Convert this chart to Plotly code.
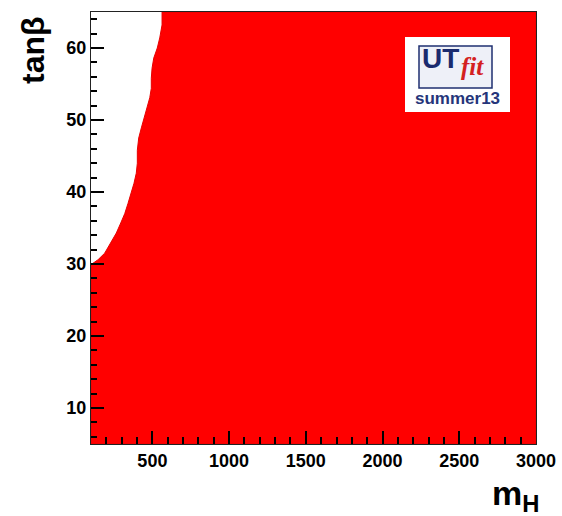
import plotly.graph_objects as go

# Boundary of the allowed (red) region: m_H vs tan(beta)
boundary_m = [100, 113, 146, 189, 228, 265, 294, 320, 341, 363, 380, 395, 402, 402,
              411, 428, 445, 467, 483, 493, 493, 498, 509, 532, 548, 563, 563]
boundary_tanb = [29.9, 30.1, 30.6, 31.5, 32.9, 34.3, 35.7, 37.0, 38.4, 39.8, 41.2, 42.6, 44.0, 45.8,
                 47.5, 48.9, 50.3, 51.7, 53.1, 54.4, 55.8, 57.2, 58.6, 60.0, 61.4, 63.2, 65.0]

x_range = [100, 3000]
y_range = [5, 65]
x_tickvals = [500, 1000, 1500, 2000, 2500, 3000]
y_tickvals = [10, 20, 30, 40, 50, 60]

poly_x = [x_range[0]] + boundary_m + [x_range[1], x_range[1], x_range[0]]
poly_y = [y_range[0]] + boundary_tanb + [y_range[1], y_range[0], y_range[0]]

fig = go.Figure()
fig.add_trace(go.Scatter(x=poly_x, y=poly_y, mode="lines", fill="toself",
                         fillcolor="#ff0000", line=dict(color="#e80000", width=1),
                         hoverinfo="skip", showlegend=False))

W, H = 562, 516
L, R, T, B = 91, 26, 12, 72
pw, ph = W - L - R, H - T - B

def px(x):
    return (x - L) / pw

def py(y):
    return (H - B - y) / ph

axis_common = dict(showline=True, linecolor="#222222", linewidth=1, mirror=True,
                   ticks="inside", ticklen=13, tickwidth=1.5, tickcolor="black",
                   showgrid=False, zeroline=False, automargin=False,
                   tickfont=dict(family="Liberation Sans", size=18, color="black", weight="bold"),
                   layer="above traces")

def note(text, x, y, size, color, family="Liberation Sans", angle=0):
    return dict(text=text, xref="paper", yref="paper", x=px(x), y=py(y), textangle=angle,
                xanchor="center", yanchor="middle", showarrow=False,
                font=dict(family=family, size=size, color=color, weight="bold"))

fig.update_layout(
    width=W, height=H,
    margin=dict(l=L, r=R, t=T, b=B, autoexpand=False),
    paper_bgcolor="white", plot_bgcolor="white",
    xaxis=dict(range=x_range, tickvals=x_tickvals,
               minor=dict(dtick=100, tick0=0, ticks="inside", ticklen=7, tickcolor="black", tickwidth=1.5),
               **axis_common),
    yaxis=dict(range=y_range, tickvals=y_tickvals,
               minor=dict(dtick=2, tick0=0, ticks="inside", ticklen=6, tickcolor="black", tickwidth=1.5),
               **axis_common),
    shapes=[
        dict(type="rect", xref="paper", yref="paper", x0=px(405), x1=px(510), y0=py(112), y1=py(37),
             fillcolor="white", line=dict(width=0), layer="above"),
        dict(type="rect", xref="paper", yref="paper", x0=px(419), x1=px(492), y0=py(88), y1=py(46),
             fillcolor="#eef0f8", line=dict(color="#1f2f70", width=1.5), layer="above"),
    ],
    annotations=[
        note("tanβ", 33, 50, 32, "black", angle=-90),
        note("m<sub>H</sub>", 515, 495, 34, "black"),
        note("UT", 440, 58, 28, "#1a2a6e"),
        note("<i>fit</i>", 472, 67, 25, "#d42020", family="Liberation Serif"),
        note("summer13", 457, 98, 17, "#25357a"),
    ],
)

fig.write_html("out.html")
